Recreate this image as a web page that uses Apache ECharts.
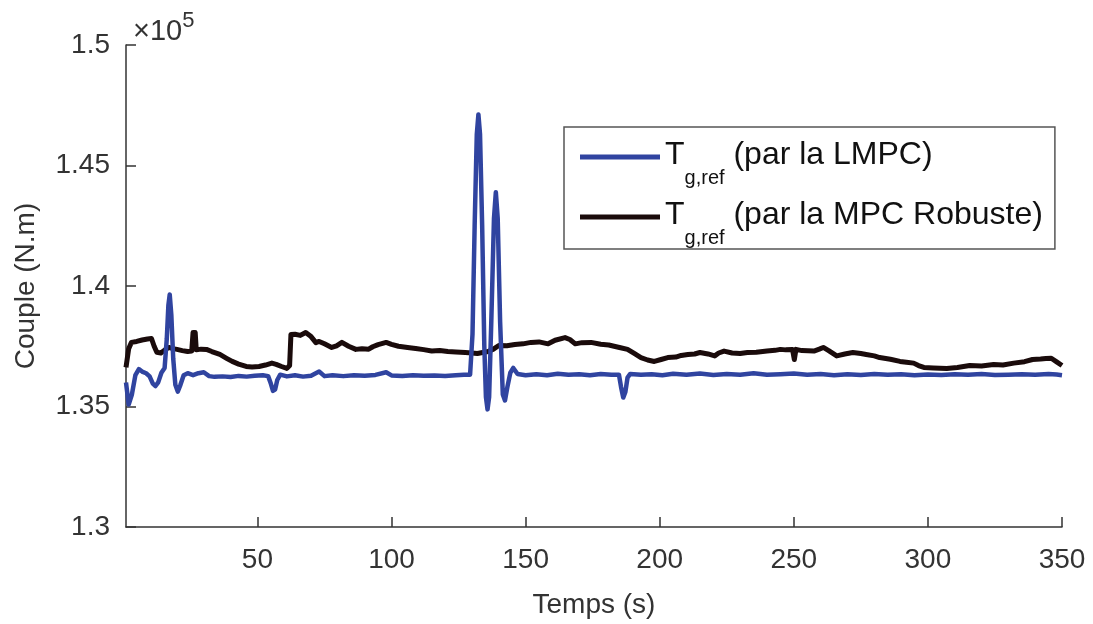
<!DOCTYPE html>
<html>
<head>
<meta charset="utf-8">
<script src="https://cdn.jsdelivr.net/npm/echarts@6/dist/echarts.min.js"></script>
<style>
html,body{margin:0;padding:0;background:#fff;}
#chart{width:1093px;height:624px;}
</style>
</head>
<body>
<div id="chart"></div>
<script>
// Time (s) and torque (N.m) for the LMPC reference
const lmpcTime = [1,2,3.2,4.5,5.8,7,8.5,9.8,11,12,13,14.2,15.4,16.2,16.8,17.3,17.9,18.6,19.4,20.3,21.3,22.5,24,26,28,30,32,34,37,40,43,46,49,52,54,55,55.8,56.6,57.4,58.5,61,64,67,70,73,75,78,82,86,90,94,98,100,104,108,112,116,120,124,127,129.3,130.2,131,131.8,132.4,133,133.8,134.6,135.2,135.8,136.4,137.2,138.2,138.9,139.6,140.5,141.5,142.3,143.2,144.3,145.4,147,150,154,158,162,166,170,174,178,182,184.8,185.6,186.4,187.2,188,189,193,197,201,205,210,215,220,225,230,235,240,245,250,255,260,265,270,275,280,285,290,295,300,305,310,315,320,325,330,335,340,345,348,350];
const lmpcTorque = [136000,135080,135500,136300,136550,136450,136380,136250,135950,135850,136000,136400,136600,137800,139200,139650,138800,137000,135900,135620,135900,136300,136380,136300,136380,136420,136260,136230,136250,136220,136270,136240,136280,136300,136260,135950,135650,135700,136100,136320,136250,136300,136240,136280,136450,136260,136300,136260,136300,136280,136310,136420,136290,136270,136300,136280,136290,136270,136300,136320,136320,138000,142500,146300,147120,146300,142500,137500,135400,134880,135400,138500,142800,143890,142800,138500,135500,135250,135800,136400,136600,136350,136300,136340,136300,136360,136320,136340,136300,136350,136320,136320,135800,135370,135600,136200,136350,136320,136340,136300,136360,136320,136370,136310,136350,136320,136380,136320,136340,136370,136320,136350,136300,136340,136310,136350,136320,136340,136300,136330,136310,136340,136320,136350,136310,136320,136340,136320,136350,136330,136300];

// Time (s) and torque (N.m) for the robust MPC reference
const robustTime = [1,2,3,5,7,9,10.5,11.5,12.5,14,15.5,17,18.5,20,22,24,25.5,26,26.8,27.2,29,31,33,36,38.5,40.6,43,45.8,48,50.6,53,55.4,57,59,61,62,62.5,64,66,68,70,71.8,73,75,77.7,79.5,81.5,84,86.7,89,91.5,93,95,98,100,102.6,106,109,112,115,118,121,124,127.5,130,132,134,136,138,140,143,146,149,152,155,158.4,161,164.7,166.5,168.5,171,174.4,178,181,183,185,188,190.5,193,195.5,198,200.5,203,206,208,210.5,213,215,218,220.5,222,224,227,230,232.7,236,240,243,245,247,249.5,250.2,250.8,253,257.5,259.5,261,263,266,269,272,275,277,280,282,286,289.6,292,294.7,296.5,298.5,302,307,311,315.6,320,324.5,328,332,336,339,342,344,346,348,350];
const robustTorque = [136620,137400,137660,137700,137760,137800,137820,137500,137250,137220,137350,137450,137400,137370,137320,137280,137300,138070,138070,137350,137380,137370,137280,137160,137000,136870,136760,136660,136640,136660,136720,136800,136750,136660,136580,136700,137990,138000,137950,138070,137900,137650,137700,137600,137450,137520,137660,137500,137370,137400,137380,137480,137570,137660,137580,137500,137450,137410,137360,137300,137320,137280,137260,137240,137220,137200,137240,137280,137380,137530,137520,137570,137600,137660,137680,137600,137750,137860,137780,137600,137650,137660,137580,137550,137500,137450,137370,137200,137030,136930,136870,136950,137030,137050,137120,137160,137180,137240,137180,137100,137220,137300,137220,137200,137240,137250,137300,137330,137370,137350,137370,136950,137370,137320,137300,137380,137450,137320,137100,137180,137240,137200,137160,137100,137030,136960,136870,136840,136800,136700,136620,136600,136580,136620,136700,136680,136740,136720,136800,136860,136950,136970,136990,137000,136850,136700];

const seriesNames = ['LMPC', 'MPC Robuste'];
const xTickValues = [50,100,150,200,250,300,350];
const yTickStep = 5000;

const toPairs = (t, v) => t.map((x, i) => [x, v[i]]);

const chart = echarts.init(document.getElementById('chart'), null, {renderer: 'canvas'});
const font = 'Liberation Sans, Arial, Helvetica, sans-serif';

chart.setOption({
  animation: false,
  backgroundColor: '#ffffff',
  title: {
    text: '{a|×10}{b|5}',
    left: 128,
    top: 5,
    textStyle: {
      fontFamily: font,
      fontWeight: 'normal',
      rich: {
        a: {fontSize: 29, lineHeight: 29, padding: [7, 0, 0, 0], color: '#333333', verticalAlign: 'top', fontFamily: font, fontWeight: 'normal'},
        b: {fontSize: 22, lineHeight: 22, color: '#333333', verticalAlign: 'top', fontFamily: font, fontWeight: 'normal'}
      }
    }
  },
  grid: {left: 126, right: 31, top: 45, bottom: 97, containLabel: false},
  legend: {
    orient: 'vertical',
    left: 564,
    top: 127,
    icon: 'rect',
    itemWidth: 80,
    itemHeight: 5,
    itemGap: 1,
    padding: [2, 12, 1, 16],
    borderColor: '#555555',
    borderWidth: 1.5,
    backgroundColor: '#ffffff',
    data: seriesNames,
    formatter: name => '{t|T}{s|g,ref}{t| (par la ' + name + ')}',
    textStyle: {
      fontFamily: font,
      color: '#111111',
      rich: {
        t: {fontSize: 32, height: 30, lineHeight: 56, padding: [11, 0, 15, 0], verticalAlign: 'top', color: '#111111', fontFamily: font},
        s: {fontSize: 20, height: 14, lineHeight: 56, padding: [42, 0, 0, 0], verticalAlign: 'top', color: '#111111', fontFamily: font}
      }
    }
  },
  xAxis: {
    type: 'value',
    min: 1,
    max: 350,
    name: 'Temps (s)',
    nameLocation: 'middle',
    nameGap: 64,
    nameTextStyle: {fontSize: 28, color: '#333333', fontFamily: font},
    axisLine: {onZero: false, lineStyle: {color: '#333333', width: 1.5}},
    axisTick: {inside: true, length: 10, customValues: xTickValues, lineStyle: {color: '#333333', width: 1.5}},
    axisLabel: {customValues: xTickValues, margin: 19, fontSize: 28, color: '#333333', fontFamily: font},
    splitLine: {show: false}
  },
  yAxis: {
    type: 'value',
    min: 130000,
    max: 150000,
    interval: yTickStep,
    name: 'Couple (N.m)',
    nameLocation: 'middle',
    nameGap: 86,
    nameTextStyle: {fontSize: 28, color: '#333333', fontFamily: font},
    axisLine: {show: true, lineStyle: {color: '#333333', width: 1.5}},
    axisTick: {show: true, inside: true, length: 10, lineStyle: {color: '#333333', width: 1.5}},
    axisLabel: {
      margin: 16, fontSize: 28, color: '#333333', fontFamily: font,
      formatter: v => String(parseFloat((v / 1e5).toFixed(2)))
    },
    splitLine: {show: false}
  },
  series: [
    {
      name: seriesNames[0],
      type: 'line',
      data: toPairs(lmpcTime, lmpcTorque),
      symbol: 'none',
      z: 3,
      lineStyle: {color: '#3044a0', width: 4.5, join: 'round'},
      itemStyle: {color: '#3044a0'}
    },
    {
      name: seriesNames[1],
      type: 'line',
      data: toPairs(robustTime, robustTorque),
      symbol: 'none',
      z: 2,
      lineStyle: {color: '#1a0b0b', width: 5, join: 'round'},
      itemStyle: {color: '#1a0b0b'}
    }
  ]
});
</script>
</body>
</html>
